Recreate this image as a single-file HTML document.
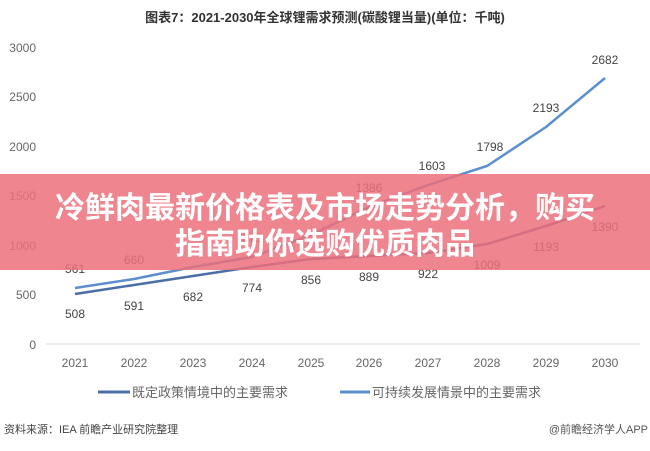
<!DOCTYPE html>
<html><head><meta charset="utf-8"><style>
body{margin:0;background:#fff;}
svg text{font-family:"Liberation Sans","Noto Sans CJK SC",sans-serif;}
</style></head><body>
<svg width="650" height="446" viewBox="0 0 650 446" xmlns="http://www.w3.org/2000/svg">
<rect width="650" height="446" fill="#fff"/>
<text x="325" y="22" text-anchor="middle" font-size="13" font-weight="bold" fill="#333">图表7：2021-2030年全球锂需求预测(碳酸锂当量)(单位：千吨)</text>
<g font-size="12" fill="#666" text-anchor="end">
<text x="36" y="52">3000</text><text x="36" y="101">2500</text><text x="36" y="151">2000</text>
<text x="36" y="200">1500</text><text x="36" y="250">1000</text><text x="36" y="299">500</text><text x="36" y="349">0</text>
</g>
<line x1="46" y1="344" x2="640" y2="344" stroke="#d9d9d9"/>
<g font-size="12" fill="#666" text-anchor="middle">
<text x="75" y="367">2021</text><text x="134" y="367">2022</text><text x="193" y="367">2023</text><text x="252" y="367">2024</text><text x="311" y="367">2025</text><text x="369" y="367">2026</text><text x="428" y="367">2027</text><text x="487" y="367">2028</text><text x="546" y="367">2029</text><text x="605" y="367">2030</text>
</g>
<polyline fill="none" stroke="#5b8fd0" stroke-width="2.5" points="75,288 134,279 193,267 252,257 311,235 369,207 428,185 487,166 546,127 605,78"/>
<polyline fill="none" stroke="#4a6fa8" stroke-width="2.5" points="75,294 134,285 193,276 252,267 311,259 369,256 428,253 487,244 546,226 605,206"/>
<g font-size="12" fill="#444" text-anchor="middle">
<text x="75" y="273">561</text><text x="134" y="264">660</text><text x="252" y="242">875</text><text x="369" y="192">1386</text><text x="432" y="170">1603</text><text x="490" y="151">1798</text><text x="546" y="112">2193</text><text x="605" y="64">2682</text>
<text x="75" y="318">508</text><text x="134" y="310">591</text><text x="193" y="301">682</text><text x="252" y="292">774</text><text x="311" y="284">856</text><text x="369" y="281">889</text><text x="428" y="278">922</text><text x="487" y="269">1009</text><text x="546" y="251">1193</text><text x="605" y="231">1390</text>
</g>
<line x1="98" y1="392" x2="130" y2="392" stroke="#4a6fa8" stroke-width="3"/>
<text x="132" y="397" font-size="13" fill="#666">既定政策情境中的主要需求</text>
<line x1="340" y1="392" x2="370" y2="392" stroke="#5b8fd0" stroke-width="3"/>
<text x="372" y="397" font-size="13" fill="#666">可持续发展情景中的主要需求</text>
<text x="4" y="433" font-size="11" fill="#444">资料来源：IEA 前瞻产业研究院整理</text>
<text x="648" y="433" font-size="11" fill="#555" text-anchor="end">@前瞻经济学人APP</text>
<rect x="0" y="174" width="650" height="96" fill="rgba(236,112,122,0.85)"/>
<g font-size="30" font-weight="bold" fill="#fff" text-anchor="middle">
<text x="325" y="218" style="font-family:'Noto Sans CJK SC',sans-serif">冷鲜肉最新价格表及市场走势分析，购买</text>
<text x="325" y="254" style="font-family:'Noto Sans CJK SC',sans-serif">指南助你选购优质肉品</text>
</g>
</svg>
</body></html>
